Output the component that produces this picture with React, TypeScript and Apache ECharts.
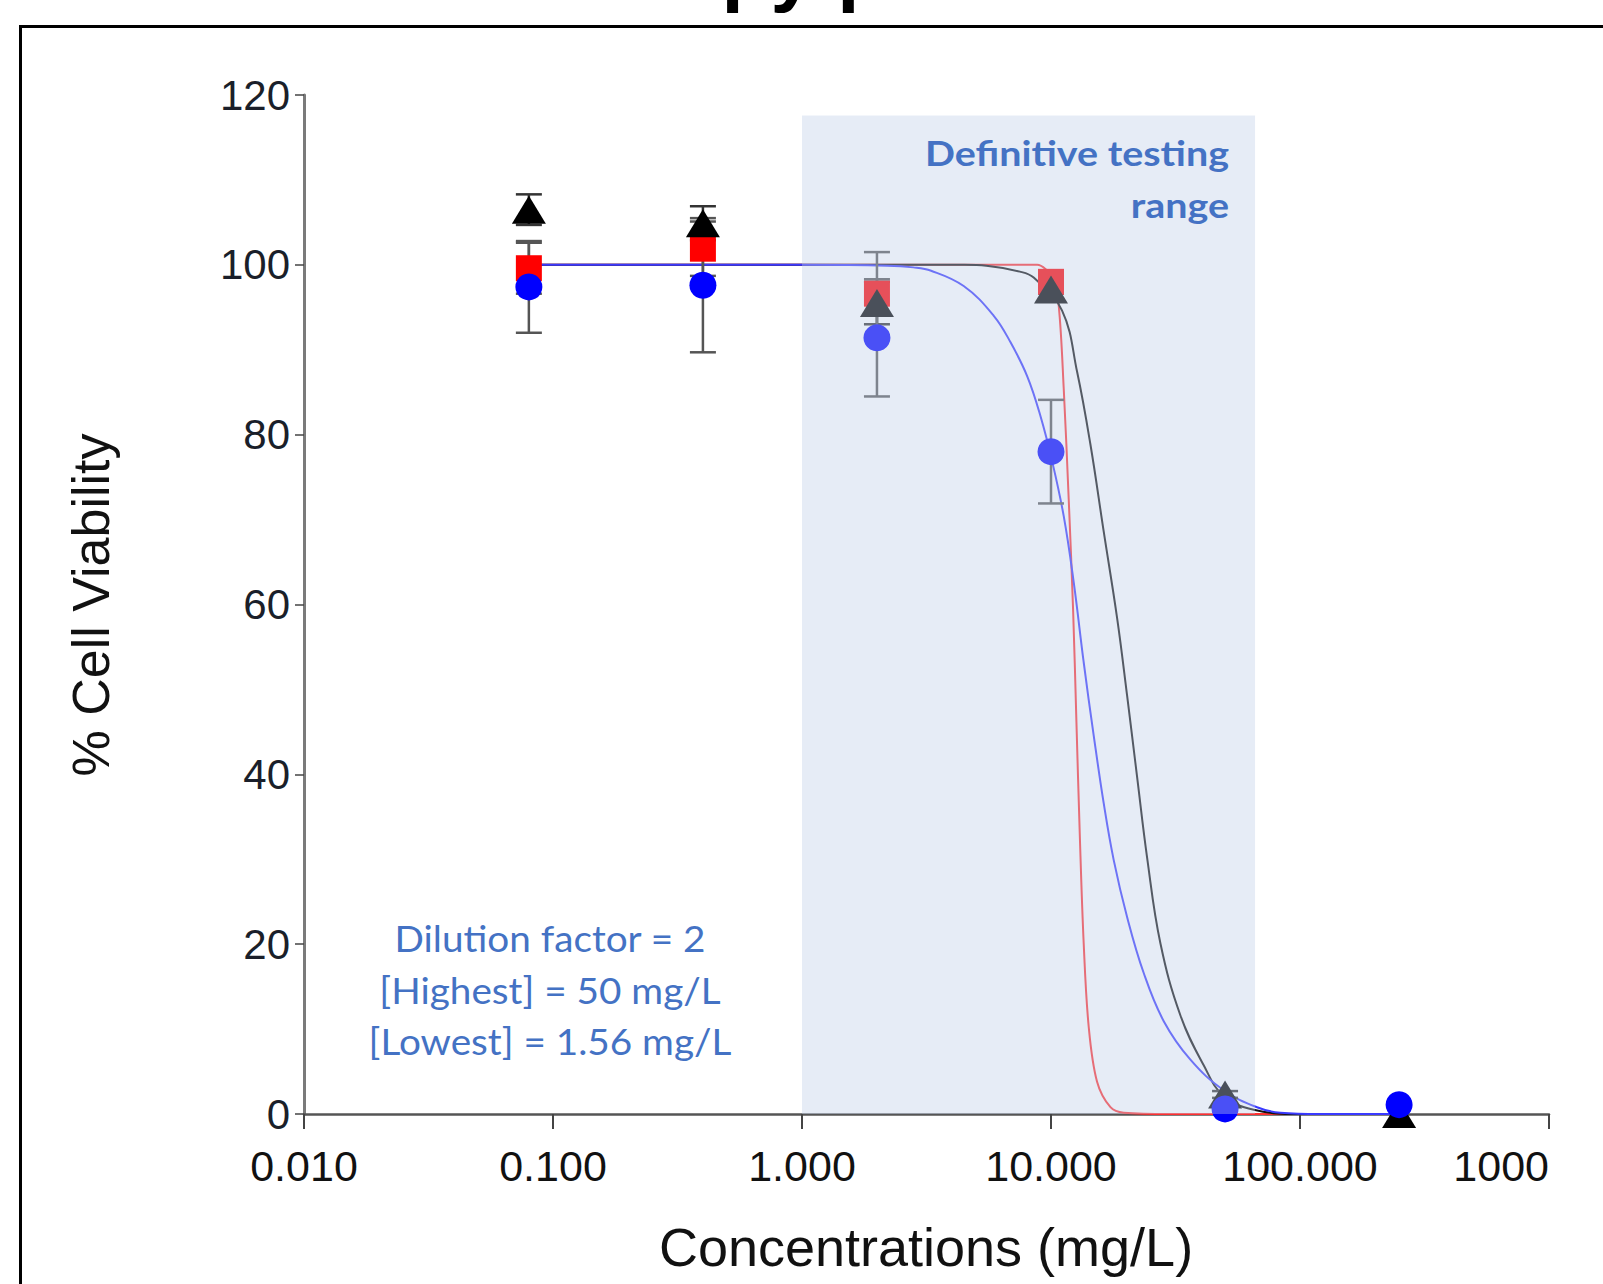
import React, { useEffect, useRef } from "react";
import * as echarts from "echarts";

// ---- data ----
const concentrations = [0.08, 0.4, 2, 10, 50, 250];

const redMeans: (number | null)[] = [99.6, 101.9, 96.6, 98.0, null, null];
const redSD = [3.0, 3.2, 4.9, 0.8, 0, 0];
const blackMeans: (number | null)[] = [106.5, 104.9, 95.5, 97.1, 2.3, 0.0];
const blackSD = [1.8, 2.0, 2.5, 0.5, 0.4, 0.0];
const blueMeans: (number | null)[] = [97.4, 97.6, 91.4, 78.0, 0.6, 1.1];
const blueSD = [5.4, 7.9, 6.9, 6.1, 0.3, 0.2];

// fitted curves
const redFitX = [0.08, 1, 5, 8.8, 9.5, 10.2, 10.74, 11.25, 11.78, 12.27, 12.65, 13.04, 13.53, 14.17, 15.31, 17.33, 19.6, 30, 250];
const redFitY = [100, 100, 100, 100, 99.5, 98.3, 95.2, 85.4, 72.4, 59.3, 46.2, 33.2, 20.1, 10.3, 3.8, 0.8, 0.15, 0, 0];

const blackFitX = [0.08, 1, 4.5, 5.5, 7.5, 8.52, 11.08, 12.73, 14.39, 16.28, 18.43, 20.21, 22.17, 24.32, 27.5, 33.1, 41.1, 49.4, 65.2, 100, 250];
const blackFitY = [100, 100, 100, 99.9, 99.2, 98.5, 94.6, 87.4, 78.9, 68.6, 58.4, 49.3, 39.7, 30.2, 20.1, 11.6, 5.7, 2.1, 0.5, 0, 0];

const blueFitX = [0.08, 1, 2.2, 2.8, 3.3, 4.46, 5.89, 6.87, 8.02, 9.07, 10.1, 11.25, 12.34, 13.53, 14.84, 16.28, 17.86, 20.21, 23.57, 28.4, 36.3, 49.4, 67.2, 83.4, 120, 250];
const blueFitY = [100, 100, 99.9, 99.7, 99.3, 97.5, 94.0, 90.9, 86.9, 82.2, 76.9, 70.4, 62.6, 53.2, 44.6, 36.6, 29.9, 23.2, 16.6, 10.9, 6.4, 2.8, 0.8, 0.15, 0, 0];

const xTickValues = [0.01, 0.1, 1, 10, 100, 1000];
const xTickLabels = ["0.010", "0.100", "1.000", "10.000", "100.000", "1000"];

const shadeFrom = 1;
const shadeTo = 66;
const shadeTop = 117.6;

const rangeLines = ["Definitive testing", "range"];
const dilutionLines = ["Dilution factor = 2", "[Highest] = 50 mg/L", "[Lowest] = 1.56 mg/L"];

const zip = (xs: number[], ys: (number | null)[]) => xs.map((x, i) => [x, ys[i] === null ? "-" : ys[i]]);

function errorBars(means: (number | null)[], sds: number[], color: string, z: number) {
  const rows: any[] = [];
  concentrations.forEach((c, i) => {
    const m = means[i];
    if (m === null) return;
    rows.push([c, m - sds[i], m + sds[i]]);
  });
  return {
    type: "custom",
    z,
    silent: true,
    data: rows,
    encode: { x: 0, y: [1, 2] },
    renderItem: (params: any, api: any) => {
      const x = api.value(0);
      const lo = api.value(1);
      const hi = api.value(2);
      if (hi - lo < 0.05) return { type: "group", children: [] };
      const p1 = api.coord([x, hi]);
      const p2 = api.coord([x, lo]);
      const hw = 13;
      const st = { stroke: color, lineWidth: 2.5 };
      return {
        type: "group",
        children: [
          { type: "line", shape: { x1: p1[0], y1: p1[1], x2: p2[0], y2: p2[1] }, style: st },
          { type: "line", shape: { x1: p1[0] - hw, y1: p1[1], x2: p1[0] + hw, y2: p1[1] }, style: st },
          { type: "line", shape: { x1: p2[0] - hw, y1: p2[1], x2: p2[0] + hw, y2: p2[1] }, style: st },
        ],
      };
    },
  };
}

export default function App() {
  const ref = useRef<HTMLDivElement>(null);
  useEffect(() => {
    if (!ref.current) return;
    const chart = echarts.init(ref.current, undefined, { renderer: "svg" });
    const annoColor = "#4472c4";
    const option: any = {
      animation: false,
      backgroundColor: "#ffffff",
      grid: { left: 304, right: 54, top: 95, bottom: 170, containLabel: false },
      xAxis: {
        type: "log",
        logBase: 10,
        min: 0.01,
        max: 1000,
        splitNumber: 5,
        axisLine: { show: true, lineStyle: { color: "#555555", width: 2.5 } },
        axisTick: { show: true, length: 15, lineStyle: { color: "#444444", width: 2 } },
        splitLine: { show: false },
        minorTick: { show: false },
        axisLabel: {
          margin: 30,
          fontFamily: "Liberation Sans",
          fontSize: 43,
          color: "#111111",
          alignMaxLabel: "right",
          formatter: (v: number) => {
            const idx = xTickValues.findIndex((t) => Math.abs(Math.log10(t) - Math.log10(v)) < 1e-6);
            return idx >= 0 ? xTickLabels[idx] : "";
          },
        },
      },
      yAxis: {
        type: "value",
        min: 0,
        max: 120,
        interval: 20,
        axisLine: { show: true, lineStyle: { color: "#7a7a7a", width: 3 } },
        axisTick: { show: true, length: 9, lineStyle: { color: "#444444", width: 1.5 } },
        splitLine: { show: false },
        axisLabel: {
          margin: 14,
          fontFamily: "Liberation Sans",
          fontSize: 42,
          color: "#1a1f2a",
        },
      },
      series: [
        {
          type: "line",
          z: 2,
          data: zip(redFitX, redFitY),
          showSymbol: false,
          smooth: 0.35,
          lineStyle: { color: "#ff3030", width: 2 },
          silent: true,
        },
        {
          type: "line",
          z: 2,
          data: zip(blackFitX, blackFitY),
          showSymbol: false,
          smooth: 0.4,
          lineStyle: { color: "#111111", width: 2 },
          silent: true,
        },
        {
          type: "line",
          z: 2,
          data: zip(blueFitX, blueFitY),
          showSymbol: false,
          smooth: 0.4,
          lineStyle: { color: "#3a3aff", width: 2 },
          silent: true,
        },
        errorBars(redMeans, redSD, "#555555", 3),
        errorBars(blackMeans, blackSD, "#333333", 3),
        errorBars(blueMeans, blueSD, "#555555", 3),
        {
          type: "scatter",
          z: 4,
          symbol: "rect",
          symbolSize: 26,
          itemStyle: { color: "#ff0000", opacity: 1 },
          data: zip(concentrations, redMeans),
          silent: true,
        },
        {
          type: "scatter",
          z: 5,
          symbol: "triangle",
          symbolSize: [34, 28],
          itemStyle: { color: "#000000", opacity: 1 },
          data: zip(concentrations, blackMeans),
          silent: true,
        },
        {
          type: "scatter",
          z: 6,
          symbol: "circle",
          symbolSize: 27,
          itemStyle: { color: "#0000ff", opacity: 1 },
          data: zip(concentrations, blueMeans),
          silent: true,
        },
        {
          type: "custom",
          z: 10,
          silent: true,
          data: [[shadeFrom, shadeTo, 0, shadeTop]],
          encode: { x: [0, 1], y: [2, 3] },
          renderItem: (params: any, api: any) => {
            const p1 = api.coord([api.value(0), api.value(3)]);
            const p2 = api.coord([api.value(1), api.value(2)]);
            return {
              type: "rect",
              shape: { x: p1[0], y: p1[1], width: p2[0] - p1[0], height: p2[1] - p1[1] },
              style: { fill: "rgba(191,206,232,0.39)" },
            };
          },
        },
      ],
      graphic: [
        {
          type: "rect",
          z: 30,
          silent: true,
          shape: { x: 20.5, y: 26.5, width: 2000, height: 2000 },
          style: { fill: "none", stroke: "#000000", lineWidth: 3 },
        },
        {
          type: "text",
          z: 30,
          x: 721.6,
          y: -32,
          silent: true,
          style: {
            text: "py p",
            fill: "#000000",
            fontFamily: "Liberation Sans",
            fontWeight: "bold",
            fontSize: 80,
            align: "left",
            textAlign: "left",
            verticalAlign: "middle",
            textVerticalAlign: "middle",
          },
        },
        {
          type: "text",
          z: 30,
          x: 91,
          y: 605,
          rotation: Math.PI / 2,
          silent: true,
          style: {
            text: "% Cell Viability",
            fill: "#111111",
            fontFamily: "Liberation Sans",
            fontSize: 52,
            align: "center",
            textAlign: "center",
            verticalAlign: "middle",
            textVerticalAlign: "middle",
          },
        },
        {
          type: "text",
          z: 30,
          x: 926,
          y: 1247,
          silent: true,
          style: {
            text: "Concentrations (mg/L)",
            fill: "#111111",
            fontFamily: "Liberation Sans",
            fontSize: 54,
            align: "center",
            textAlign: "center",
            verticalAlign: "middle",
            textVerticalAlign: "middle",
          },
        },
        ...rangeLines.map((t, i) => ({
          type: "text",
          z: 30,
          x: 1229,
          y: 166.5 - 0.387 * 34 + i * 51.5,
          scaleX: 1.16,
          silent: true,
          style: {
            text: t,
            fill: annoColor,
            fontFamily: "Lato",
            fontWeight: "bold",
            fontSize: 34,
            align: "right",
            textAlign: "right",
            verticalAlign: "middle",
            textVerticalAlign: "middle",
          },
        })),
        ...dilutionLines.map((t, i) => ({
          type: "text",
          z: 30,
          x: 550,
          y: 952 - 0.387 * 36 + i * 51.5,
          scaleX: 1.075,
          silent: true,
          style: {
            text: t,
            fill: annoColor,
            fontFamily: "Lato",
            fontSize: 36,
            align: "center",
            textAlign: "center",
            verticalAlign: "middle",
            textVerticalAlign: "middle",
          },
        })),
      ],
    };
    chart.setOption(option);
    return () => chart.dispose();
  }, []);
  return (
    <div
      ref={ref}
      style={{ position: "absolute", left: 0, top: 0, width: 1603, height: 1284, background: "#ffffff" }}
    />
  );
}
